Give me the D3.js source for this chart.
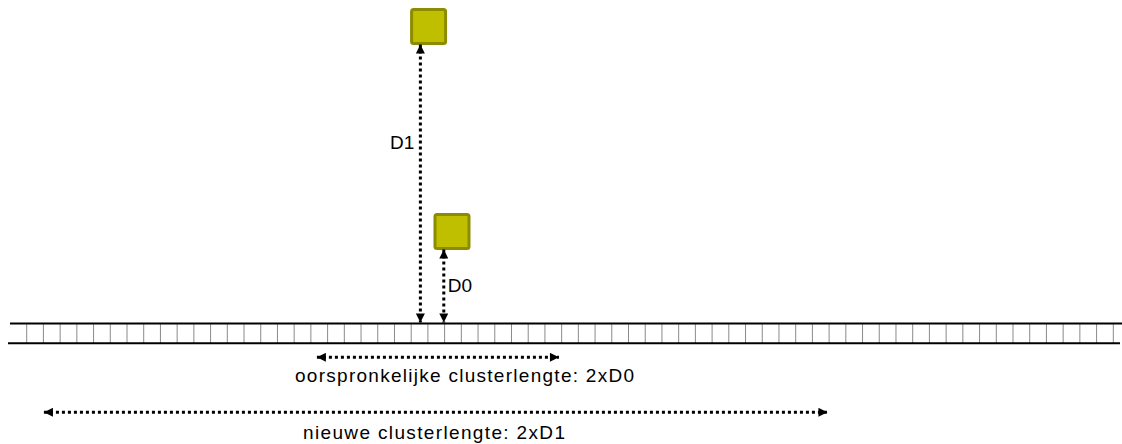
<!DOCTYPE html>
<html>
<head>
<meta charset="utf-8">
<script src="https://cdn.jsdelivr.net/npm/d3@7/dist/d3.min.js"></script>
<style>
  html, body { margin: 0; padding: 0; background: #fff; }
  svg { display: block; }
  text { font-family: "Liberation Sans", Arial, sans-serif; fill: #000; }
</style>
</head>
<body>
<svg id="chart" width="1122" height="444"></svg>
<script>
// ---- data (diagram units) ----
const stripTicks = d3.range(0, 66);            // cell boundaries along the strip
const squareLabels = ["D1", "D0"];             // distance labels
const squareX = [24.04, 25.44];                // square centres (cell units)
const arrowX = [23.55, 24.95];                 // vertical arrow positions (cell units)
const distances = [280, 75];                   // distance from strip (vertical units)
const spanLabels = ["oorspronkelijke clusterlengte: 2xD0", "nieuwe clusterlengte: 2xD1"];
const spanStart = [17.36, 1.03];               // span start (cell units)
const spanEnd = [31.84, 47.9];                 // span end (cell units)

// ---- layout ----
const svg = d3.select("#chart");
const x = d3.scaleLinear().domain([0, 65]).range([26.7, 1113.3]);
const y = d3.scaleLinear().domain([0, 300]).range([323.5, 23.5]);
const stripTop = y(0), stripBottom = 343.3;
const sq = 34;

// markers
const defs = svg.append("defs");
function marker(id, orient) {
  defs.append("marker")
    .attr("id", id)
    .attr("viewBox", "0 0 10 10")
    .attr("refX", 10).attr("refY", 5)
    .attr("markerWidth", 10).attr("markerHeight", 9)
    .attr("markerUnits", "userSpaceOnUse")
    .attr("orient", orient)
    .append("path").attr("d", "M0,0 L10,5 L0,10 Z").attr("fill", "#000");
}
marker("head", "auto");
marker("tail", "auto-start-reverse");

// strip ticks
svg.append("g").selectAll("line").data(stripTicks).join("line")
  .attr("x1", d => x(d)).attr("x2", d => x(d))
  .attr("y1", stripTop).attr("y2", stripBottom)
  .attr("stroke", "#8a8a8a").attr("stroke-width", 1);

// strip borders
svg.append("line").attr("x1", 10).attr("x2", 1122)
  .attr("y1", stripTop).attr("y2", stripTop)
  .attr("stroke", "#000").attr("stroke-width", 2);
svg.append("line").attr("x1", 8).attr("x2", 1120)
  .attr("y1", stripBottom).attr("y2", stripBottom)
  .attr("stroke", "#000").attr("stroke-width", 2);

// squares
svg.append("g").selectAll("rect").data(squareX).join("rect")
  .attr("x", d => x(d) - sq / 2)
  .attr("y", (d, i) => y(distances[i]) - sq)
  .attr("width", sq).attr("height", sq).attr("rx", 2)
  .attr("fill", "#BFBF00").attr("stroke", "#8C8C00").attr("stroke-width", 3);

// vertical dotted arrows
svg.append("g").selectAll("line").data(arrowX).join("line")
  .attr("x1", d => x(d)).attr("x2", d => x(d))
  .attr("y1", (d, i) => y(distances[i]) + 1).attr("y2", stripTop - 1)
  .attr("stroke", "#000").attr("stroke-width", 3)
  .attr("stroke-dasharray", "3,3")
  .attr("marker-start", "url(#tail)").attr("marker-end", "url(#head)");

// distance labels
svg.append("text").attr("x", x(arrowX[0]) - 6).attr("y", 149)
  .attr("text-anchor", "end").style("font-size", "19px").text(squareLabels[0]);
svg.append("text").attr("x", x(arrowX[1]) + 4).attr("y", 292)
  .attr("text-anchor", "start").style("font-size", "19px").text(squareLabels[1]);

// horizontal spans
const spanY = [357.3, 412.3];
const textY = [382, 439];
const textStart = [295, 303];
const textLen = [339, 262];
svg.append("g").selectAll("line").data(spanStart).join("line")
  .attr("x1", d => x(d)).attr("x2", (d, i) => x(spanEnd[i]))
  .attr("y1", (d, i) => spanY[i]).attr("y2", (d, i) => spanY[i])
  .attr("stroke", "#000").attr("stroke-width", 3)
  .attr("stroke-dasharray", "3,3")
  .attr("marker-start", "url(#tail)").attr("marker-end", "url(#head)");

svg.append("g").selectAll("text").data(spanLabels).join("text")
  .attr("x", (d, i) => textStart[i]).attr("y", (d, i) => textY[i])
  .attr("textLength", (d, i) => textLen[i]).attr("lengthAdjust", "spacing")
  .style("font-size", "19px")
  .text(d => d);
</script>
</body>
</html>
